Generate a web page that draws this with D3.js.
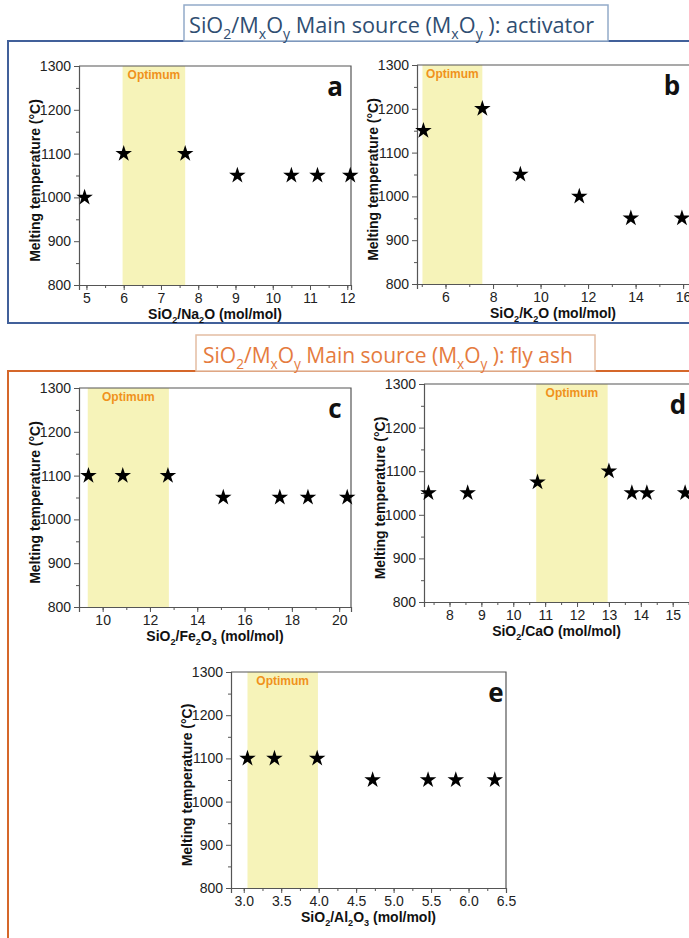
<!DOCTYPE html>
<html lang="en">
	<head>
		<meta charset="utf-8">
		<title>Melting temperature vs SiO2/MxOy</title>
		<style type="text/css">
			body { margin: 0; background: #fff; }
			svg { display: block; }
		</style>
	</head>
	<body>
		<script src="https://d3js.org/d3.v7.min.js"></script>
		<script type="text/javascript">
			//Width and height
			var w = 689;
			var h = 938;

			//Data
			var aX = [4.95, 6.0, 7.65, 9.05, 10.5, 11.2, 12.08];
			var aY = [1000, 1100, 1100, 1050, 1050, 1050, 1050];
			var aOpt = [5.97, 7.65];
			var aTicks = [5, 6, 7, 8, 9, 10, 11, 12];

			var bX = [5.07, 7.55, 9.15, 11.63, 13.8, 15.95];
			var bY = [1150, 1200, 1050, 1000, 950, 950];
			var bOpt = [5.03, 7.55];
			var bTicks = [6, 8, 10, 12, 14, 16];

			var cX = [9.4, 10.85, 12.76, 15.1, 17.49, 18.68, 20.34];
			var cY = [1100, 1100, 1100, 1050, 1050, 1050, 1050];
			var cOpt = [9.37, 12.8];
			var cTicks = [10, 12, 14, 16, 18, 20];

			var dX = [7.34, 8.57, 10.76, 13.0, 13.72, 14.19, 15.39];
			var dY = [1050, 1050, 1075, 1100, 1050, 1050, 1050];
			var dOpt = [10.72, 12.96];
			var dTicks = [8, 9, 10, 11, 12, 13, 14, 15];

			var eX = [3.05, 3.41, 3.98, 4.72, 5.46, 5.83, 6.35];
			var eY = [1100, 1100, 1100, 1050, 1050, 1050, 1050];
			var eOpt = [3.05, 3.99];
			var eTicks = [3.0, 3.5, 4.0, 4.5, 5.0, 5.5, 6.0, 6.5];

			var yTicks = [800, 900, 1000, 1100, 1200, 1300];
			var yMinor = [850, 950, 1050, 1150, 1250];

			var yTitle = "Melting temperature (°C)";
			var title1 = "SiO_2/M_xO_y Main source (M_xO_y ): activator";
			var title2 = "SiO_2/M_xO_y Main source (M_xO_y ): fly ash";

			var svg = d3.select("body")
						.append("svg")
						.attr("width", w)
						.attr("height", h);

			//text with _x subscripts
			function subText(sel, str, size) {
				var parts = str.split(/(_.)/);
				var down = false;
				parts.forEach(function(p) {
					if (p === "") return;
					var t = sel.append("tspan");
					if (p[0] === "_") {
						t.text(p[1]).attr("font-size", size * 0.65).attr("dy", size * 0.28);
						down = true;
					} else {
						t.text(p);
						if (down) { t.attr("dy", -size * 0.28); down = false; }
					}
				});
				return sel;
			}

			//Section frames and header boxes
			function section(y0, y1, bx, bw, by, color, boxColor, textColor, title, tx, fs) {
				svg.append("rect")
				   .attr("x", 8).attr("y", y0)
				   .attr("width", 720).attr("height", y1 - y0)
				   .attr("fill", "none")
				   .attr("stroke", color)
				   .attr("stroke-width", 2);
				svg.append("rect")
				   .attr("x", bx).attr("y", by)
				   .attr("width", bw).attr("height", y0 - by)
				   .attr("fill", "#fff")
				   .attr("stroke", boxColor)
				   .attr("stroke-width", 1.5);
				var t = svg.append("text")
				   .attr("x", tx).attr("y", by + 28)
				   .attr("font-family", "'Open Sans', 'Noto Sans', sans-serif")
				   .attr("font-size", fs)
				   .attr("fill", textColor);
				subText(t, title, fs);
			}

			section(41, 323, 184, 424, 5, "#41609a", "#93abc9", "#2f4e72", title1, 189, 21.7);
			section(371, 960, 196, 399, 335, "#d5672a", "#e3bda3", "#e57b3e", title2, 203, 21);

			function panel(p) {
				var g = svg.append("g");
				var xScale = d3.scaleLinear().domain(p.dom).range([p.x0, p.x1]);
				var yScale = d3.scaleLinear().domain([800, 1300]).range([p.y1, p.y0]);

				//optimum band
				g.append("rect")
				 .attr("x", xScale(p.opt[0]))
				 .attr("y", p.y0)
				 .attr("width", xScale(p.opt[1]) - xScale(p.opt[0]))
				 .attr("height", p.y1 - p.y0)
				 .attr("fill", "#f6f3b9");

				g.append("text")
				 .text("Optimum")
				 .attr("x", (xScale(p.opt[0]) + xScale(p.opt[1])) / 2)
				 .attr("y", p.y0 + 13)
				 .attr("text-anchor", "middle")
				 .attr("font-family", "'Liberation Sans', Arial, sans-serif")
				 .attr("font-weight", "bold")
				 .attr("font-size", 12)
				 .attr("fill", "#f0921c");

				//box top and right
				g.append("path")
				 .attr("d", "M" + p.x0 + "," + p.y0 + "H" + p.x1 + "V" + p.y1)
				 .attr("fill", "none")
				 .attr("stroke", "#555")
				 .attr("stroke-width", 1.2);

				//axes
				var xMinor = [];
				for (var v = Math.ceil(p.dom[0] / p.minor) * p.minor; v <= p.dom[1]; v += p.minor) {
					xMinor.push(+v.toFixed(3));
				}
				g.append("g")
				 .attr("transform", "translate(0," + p.y1 + ")")
				 .call(d3.axisBottom(xScale).tickValues(p.ticks).tickSizeOuter(0).tickSize(5).tickPadding(3)
				 	.tickFormat(d3.format(p.fmt)));
				g.append("g")
				 .attr("transform", "translate(0," + p.y1 + ")")
				 .call(d3.axisBottom(xScale).tickValues(xMinor).tickSize(3).tickFormat(""))
				 .select(".domain").remove();

				g.append("g")
				 .attr("transform", "translate(" + p.x0 + ",0)")
				 .call(d3.axisLeft(yScale).tickValues(yTicks).tickSizeOuter(0).tickSize(5).tickPadding(3)
				 	.tickFormat(d3.format("d")));
				g.append("g")
				 .attr("transform", "translate(" + p.x0 + ",0)")
				 .call(d3.axisLeft(yScale).tickValues(yMinor).tickSize(3).tickFormat(""))
				 .select(".domain").remove();

				g.selectAll(".domain").attr("stroke", "#555").attr("stroke-width", 1.2);
				g.selectAll(".tick line").attr("stroke", "#555");
				g.selectAll(".tick text")
				 .attr("font-family", "'Liberation Sans', Arial, sans-serif")
				 .attr("font-size", 14)
				 .attr("fill", "#222");

				//axis titles
				var xt = g.append("text")
				 .attr("x", (p.x0 + Math.min(p.x1, 689)) / 2)
				 .attr("y", p.y1 + 34)
				 .attr("text-anchor", "middle")
				 .attr("font-family", "'Liberation Sans', Arial, sans-serif")
				 .attr("font-weight", "bold")
				 .attr("font-size", 14)
				 .attr("fill", "#111");
				subText(xt, p.xTitle, 14);

				g.append("text")
				 .text(yTitle)
				 .attr("transform", "translate(" + (p.x0 - 39) + "," + ((p.y0 + p.y1) / 2 + 5) + ") rotate(-90)")
				 .attr("text-anchor", "middle")
				 .attr("font-family", "'Liberation Sans', Arial, sans-serif")
				 .attr("font-weight", "bold")
				 .attr("font-size", 14)
				 .attr("fill", "#111");

				//panel letter
				g.append("text")
				 .text(p.letter)
				 .attr("x", p.lx)
				 .attr("y", p.y0 + 30)
				 .attr("text-anchor", "middle")
				 .attr("font-family", "'Open Sans', 'Noto Sans', sans-serif")
				 .attr("font-weight", "bold")
				 .attr("font-size", 26)
				 .attr("fill", "#111");

				//stars
				g.selectAll("path.star")
				 .data(d3.zip(p.xs, p.ys))
				 .enter()
				 .append("path")
				 .attr("class", "star")
				 .attr("d", d3.symbol().type(d3.symbolStar).size(85))
				 .attr("transform", function(d) {
				 	return "translate(" + xScale(d[0]) + "," + yScale(d[1]) + ")";
				 })
				 .attr("fill", "#000");
			}

			panel({ x0: 79, x1: 351, y0: 66, y1: 285, dom: [4.8, 12.1], minor: 0.5, fmt: "d",
				xs: aX, ys: aY, opt: aOpt, ticks: aTicks, letter: "a", lx: 335,
				xTitle: "SiO_2/Na_2O (mol/mol)" });
			panel({ x0: 417, x1: 695, y0: 65, y1: 284, dom: [4.8, 16.5], minor: 1, fmt: "d",
				xs: bX, ys: bY, opt: bOpt, ticks: bTicks, letter: "b", lx: 672,
				xTitle: "SiO_2/K_2O (mol/mol)" });
			panel({ x0: 79, x1: 351, y0: 388, y1: 607, dom: [9, 20.5], minor: 1, fmt: "d",
				xs: cX, ys: cY, opt: cOpt, ticks: cTicks, letter: "c", lx: 335,
				xTitle: "SiO_2/Fe_2O_3 (mol/mol)" });
			panel({ x0: 424, x1: 695, y0: 384, y1: 602, dom: [7.2, 15.7], minor: 0.5, fmt: "d",
				xs: dX, ys: dY, opt: dOpt, ticks: dTicks, letter: "d", lx: 678,
				xTitle: "SiO_2/CaO (mol/mol)" });
			panel({ x0: 231, x1: 506, y0: 672, y1: 888, dom: [2.83, 6.5], minor: 0.25, fmt: ".1f",
				xs: eX, ys: eY, opt: eOpt, ticks: eTicks, letter: "e", lx: 496,
				xTitle: "SiO_2/Al_2O_3 (mol/mol)" });
		</script>
	</body>
</html>
